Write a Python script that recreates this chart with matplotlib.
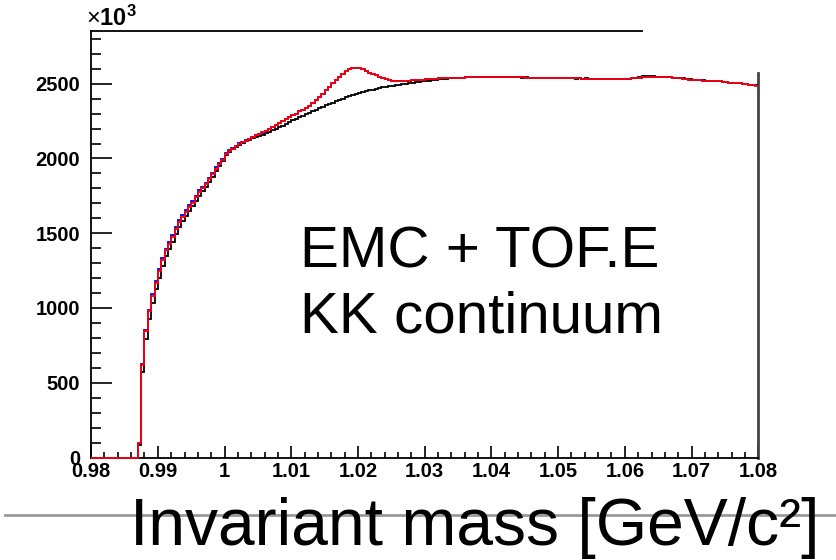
import numpy as np
import matplotlib
matplotlib.use("Agg")
from matplotlib import pyplot as plt
from matplotlib.lines import Line2D
from matplotlib.ticker import MultipleLocator

plt.rcParams["font.family"] = ["Liberation Sans", "DejaVu Sans"]
plt.rcParams["mathtext.fontset"] = "custom"
plt.rcParams["mathtext.rm"] = "Liberation Sans"
plt.rcParams["mathtext.bf"] = "Liberation Sans:bold"

# 200 bins of 0.5 MeV between 0.98 and 1.08 GeV, counts in units of 10^3
x_lo, x_hi, n_bins = 0.98, 1.08, 200

# red: EMC + TOF.E (with phi peak)
red = [0] * 14 + [95,
    620, 843, 977, 1082, 1170, 1245, 1320, 1385, 1430,
    1475, 1530, 1575, 1610, 1645, 1678, 1705, 1740, 1775, 1800,
    1828, 1860, 1895, 1930, 1960, 1990, 2030, 2050, 2065, 2080,
    2098, 2110, 2120, 2132, 2142, 2155, 2165, 2175, 2185, 2198,
    2212, 2225, 2240, 2250, 2262, 2275, 2288, 2300, 2315, 2325,
    2338, 2352, 2370, 2388, 2408, 2430, 2455, 2478, 2502, 2525,
    2548, 2568, 2585, 2598, 2605, 2607, 2604, 2595, 2584, 2572,
    2565, 2558, 2548, 2538, 2530, 2522, 2518, 2517, 2517, 2518,
    2519, 2520, 2522, 2524, 2526, 2528, 2530, 2531, 2533, 2534,
    2535, 2536, 2537, 2538, 2539, 2540, 2540, 2541, 2542, 2542,
    2543, 2543, 2544, 2544, 2544, 2545, 2545, 2545, 2544, 2545,
    2544, 2544, 2543, 2543, 2542, 2542, 2541, 2541, 2540, 2540,
    2539, 2539, 2538, 2538, 2538, 2537, 2537, 2537, 2536, 2536,
    2535, 2535, 2535, 2534, 2534, 2534, 2533, 2533, 2533, 2532,
    2532, 2532, 2532, 2531, 2531, 2531, 2532, 2533, 2535, 2538,
    2541, 2543, 2544, 2544, 2545, 2545, 2545, 2544, 2543, 2542,
    2540, 2538, 2536, 2534, 2531, 2528, 2526, 2524, 2522, 2521,
    2520, 2520, 2519, 2518, 2515, 2511, 2508, 2506, 2505, 2504,
    2502, 2499, 2495, 2492, 2489, 2486]

# black: KK continuum
black = [0] * 14 + [85,
    570, 790, 925, 1035, 1125, 1200, 1280, 1345, 1395,
    1440, 1495, 1540, 1580, 1615, 1650, 1680, 1715, 1750, 1780,
    1808, 1840, 1878, 1915, 1948, 1980, 2020, 2045, 2060, 2075,
    2092, 2105, 2115, 2125, 2135, 2145, 2152, 2160, 2168, 2178,
    2188, 2198, 2208, 2220, 2232, 2243, 2255, 2265, 2275, 2285,
    2295, 2305, 2315, 2325, 2335, 2345, 2355, 2364, 2373, 2382,
    2391, 2400, 2408, 2416, 2424, 2431, 2438, 2444, 2450, 2456,
    2461, 2466, 2470, 2475, 2479, 2483, 2487, 2490, 2494, 2497,
    2500, 2503, 2506, 2509, 2512, 2515, 2518, 2521, 2524, 2527,
    2529, 2531, 2533, 2535, 2537, 2538, 2540, 2541, 2543, 2542,
    2544, 2543, 2545, 2544, 2545, 2546, 2545, 2546, 2544, 2545,
    2545, 2543, 2544, 2542, 2543, 2541, 2542, 2540, 2541, 2539,
    2540, 2538, 2539, 2537, 2539, 2536, 2538, 2536, 2537, 2535,
    2536, 2534, 2536, 2533, 2535, 2533, 2534, 2532, 2534, 2531,
    2533, 2531, 2533, 2530, 2532, 2531, 2533, 2534, 2537, 2541,
    2548, 2551, 2549, 2552, 2550, 2547, 2546, 2545, 2544, 2543,
    2541, 2539, 2537, 2535, 2532, 2529, 2527, 2525, 2523, 2522,
    2521, 2521, 2520, 2519, 2516, 2512, 2509, 2507, 2506, 2505,
    2503, 2500, 2496, 2493, 2490, 2488]

# blue: mostly hidden under red
blue = [0] * 14 + [95,
    625, 852, 988, 1094, 1182, 1258, 1333, 1397, 1443,
    1488, 1542, 1588, 1622, 1657, 1690, 1717, 1752, 1786, 1811,
    1839, 1870, 1905, 1940, 1970, 1999, 2038, 2057, 2071, 2086,
    2102, 2113, 2122, 2133, 2142, 2154, 2163, 2173, 2183, 2196,
    2212, 2225, 2240, 2250, 2262, 2275, 2288, 2300, 2315, 2325,
    2338, 2352, 2370, 2388, 2408, 2430, 2455, 2478, 2502, 2525,
    2548, 2568, 2585, 2598, 2605, 2607, 2604, 2595, 2584, 2572,
    2565, 2558, 2548, 2538, 2530, 2522, 2518, 2517, 2517, 2518,
    2519, 2520, 2522, 2524, 2526, 2528, 2530, 2531, 2533, 2534,
    2535, 2536, 2537, 2538, 2539, 2540, 2540, 2541, 2542, 2542,
    2543, 2543, 2544, 2544, 2544, 2545, 2545, 2545, 2544, 2545,
    2544, 2544, 2543, 2543, 2542, 2542, 2541, 2541, 2540, 2540,
    2539, 2539, 2538, 2538, 2538, 2537, 2537, 2537, 2536, 2536,
    2535, 2535, 2535, 2534, 2534, 2534, 2533, 2533, 2533, 2532,
    2532, 2532, 2532, 2531, 2531, 2531, 2532, 2533, 2535, 2538,
    2541, 2543, 2544, 2544, 2545, 2545, 2545, 2544, 2543, 2542,
    2540, 2538, 2536, 2534, 2531, 2528, 2526, 2524, 2522, 2521,
    2520, 2520, 2519, 2518, 2515, 2511, 2508, 2506, 2505, 2504,
    2502, 2499, 2495, 2492, 2491, 2490]

edges = np.linspace(x_lo, x_hi, n_bins + 1)

fig = plt.figure(figsize=(8.36, 5.6), dpi=100)
ax = fig.add_axes([0.109, 0.183, 0.798, 0.761])

ax.stairs(black, edges, baseline=None, color="black", lw=1.3, clip_on=False, zorder=3)
ax.stairs(blue, edges, baseline=None, color="blue", lw=1.3, clip_on=False, zorder=3)
ax.stairs(red, edges, baseline=None, color="red", lw=1.3, clip_on=False, zorder=3)

ax.set_xlim(x_lo, x_hi)
ax.set_ylim(0, 2850)

ax.xaxis.set_major_locator(MultipleLocator(0.01))
ax.xaxis.set_minor_locator(MultipleLocator(0.002))
ax.yaxis.set_major_locator(MultipleLocator(500))
ax.yaxis.set_minor_locator(MultipleLocator(100))
ax.xaxis.set_major_formatter(lambda v, p: f"{v:.2f}".rstrip("0").rstrip("."))

ax.tick_params(axis="both", which="both", direction="in", width=1.2,
               top=False, right=False, labelsize=14.5)
ax.tick_params(axis="x", which="major", length=9, pad=3)
ax.tick_params(axis="x", which="minor", length=4)
ax.tick_params(axis="y", which="major", length=15, pad=8)
ax.tick_params(axis="y", which="minor", length=7)
for lab in ax.get_xticklabels() + ax.get_yticklabels():
    lab.set_fontweight("bold")

for side in ["left", "bottom", "top"]:
    ax.spines[side].set_linewidth(1.3)
ax.spines["top"].set_bounds(0.98, 1.0626)
ax.spines["right"].set_bounds(0, 2573)
ax.spines["right"].set_linewidth(2)
ax.spines["right"].set_color("#444444")

ax.text(-0.007, 1.0, r"$\times\mathbf{10^{3}}$", transform=ax.transAxes,
        fontsize=17, ha="left", va="bottom")

ax.text(1.01133, 1268, "EMC + TOF.E", fontsize=42, ha="left", va="baseline")
ax.text(1.01133, 834, "KK continuum", fontsize=42, ha="left", va="baseline")

fig.add_artist(Line2D([0.006, 1.0], [0.0804, 0.0804], transform=fig.transFigure,
                      color="#999999", lw=2))
fig.text(0.568, 0.027, "Invariant mass [GeV/c²]", fontsize=47.5,
         ha="center", va="baseline")

fig.savefig("out.png", dpi=100)
